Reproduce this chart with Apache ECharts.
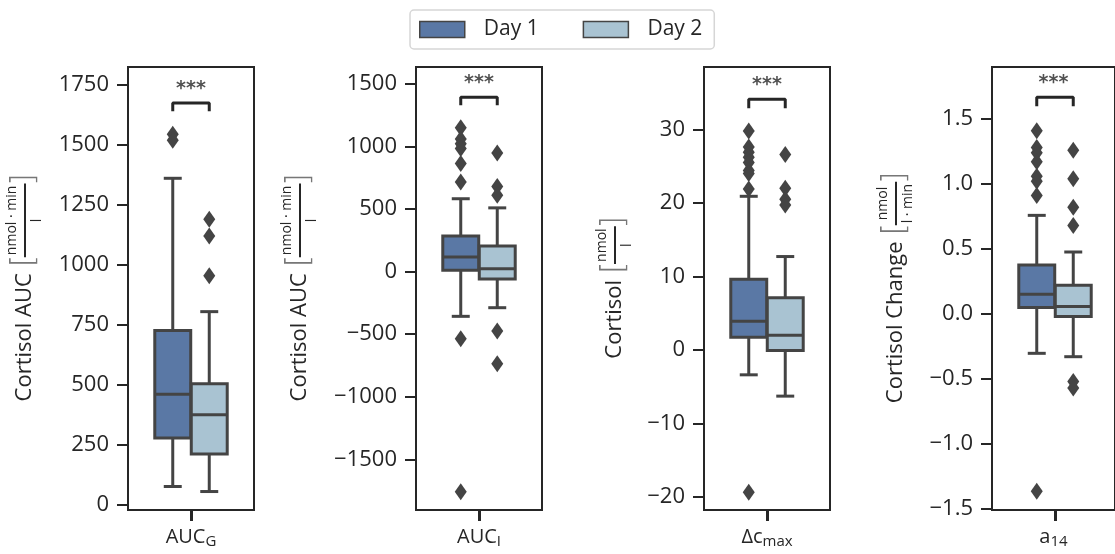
<!DOCTYPE html>
<html>
<head>
<meta charset="utf-8">
<script src="https://cdn.jsdelivr.net/npm/echarts@6/dist/echarts.min.js"></script>
<style>
  html, body { margin: 0; padding: 0; background: #fff; }
  #chart { width: 1115px; height: 554px; }
</style>
</head>
<body>
<div id="chart"></div>
<script>
// ---------------------------------------------------------------------------
// Cortisol boxplots, Day 1 vs Day 2, four measures side by side
// ---------------------------------------------------------------------------

const days = ['Day 1', 'Day 2']
const dayColors = ['#5a78a5', '#a9c3d2']

// x category of each panel: main text + subscript
const metricMain = ['AUC', 'AUC', 'Δc', 'a']
const metricSub = ['G', 'I', 'max', '14']

// y axis title: text, fraction numerator, fraction denominator
const yTitle = ['Cortisol AUC', 'Cortisol AUC', 'Cortisol', 'Cortisol Change']
const yUnitNum = ['nmol · min', 'nmol · min', 'nmol', 'nmol']
const yUnitDen = ['l', 'l', 'l', 'l · min']

const yMin = [-22, -1905, -21.8, -1.51]
const yMax = [1825, 1636, 38.5, 1.9]
const yTicks = [
  [0, 250, 500, 750, 1000, 1250, 1500, 1750],
  [-1500, -1000, -500, 0, 500, 1000, 1500],
  [-20, -10, 0, 10, 20, 30],
  [-1.5, -1.0, -0.5, 0.0, 0.5, 1.0, 1.5],
]
const yDecimals = [0, 0, 0, 1]

// box: [lower whisker, Q1, median, Q3, upper whisker]
const day1Box = [
  [76, 278, 461, 726, 1361],
  [-357, 12, 118, 286, 583],
  [-3.4, 1.7, 3.9, 9.6, 20.9],
  [-0.304, 0.049, 0.151, 0.376, 0.758],
]
const day2Box = [
  [55, 211, 375, 504, 805],
  [-288, -59, 24, 205, 510],
  [-6.3, -0.1, 2.0, 7.1, 12.7],
  [-0.33, -0.02, 0.057, 0.22, 0.476],
]
const day1Outliers = [
  [1545, 1520],
  [1150, 1060, 1023, 985, 865, 716, -536, -1760],
  [29.8, 27.6, 26.9, 26.2, 25.5, 24.4, 24.0, 21.9, -19.4],
  [1.41, 1.28, 1.24, 1.17, 1.06, 1.02, 0.91, -1.365],
]
const day2Outliers = [
  [1190, 1120, 955],
  [948, 680, 610, -475, -735],
  [26.6, 22.0, 20.5, 19.7],
  [1.26, 1.04, 0.82, 0.68, -0.52, -0.57],
]
const bracketLow = [1640, 1330, 32.9, 1.598]
const bracketHigh = [1675, 1395, 34.1, 1.667]
const sigLabel = ['***', '***', '***', '***']

// layout
const panelLeft = [128, 416, 704, 992]
const panelTop = 67
const panelWidth = 126
const panelHeight = 443
const boxAreaInset = 26.5
const boxAreaWidth = 73
const yNameGap = [84, 97, 70, 77]

const FONT = '"Open Sans", "Noto Sans", sans-serif'
const INK = '#262626'
const GRAY = '#444444'

const measureCtx = document.createElement('canvas').getContext('2d')
function textWidth(str, size) {
  measureCtx.font = size + 'px "Open Sans"'
  return measureCtx.measureText(str).width
}

function fmtTick(v, dec) {
  const s = Math.abs(v).toFixed(dec)
  return v < 0 ? '\u2212' + s : s
}

function renderBox(params, api) {
  const i = api.value(0)
  const low = api.coord([i, api.value(1)])
  const q1 = api.coord([i, api.value(2)])
  const med = api.coord([i, api.value(3)])
  const q3 = api.coord([i, api.value(4)])
  const high = api.coord([i, api.value(5)])
  const bw = api.size([1, 0])[0] * 0.985
  const x = low[0]
  const cap = bw / 4
  const line = { stroke: GRAY, lineWidth: 3 }
  return {
    type: 'group',
    children: [
      { type: 'line', shape: { x1: x, y1: q3[1], x2: x, y2: high[1] }, style: line },
      { type: 'line', shape: { x1: x, y1: q1[1], x2: x, y2: low[1] }, style: line },
      { type: 'line', shape: { x1: x - cap, y1: high[1], x2: x + cap, y2: high[1] }, style: line },
      { type: 'line', shape: { x1: x - cap, y1: low[1], x2: x + cap, y2: low[1] }, style: line },
      {
        type: 'rect',
        shape: { x: x - bw / 2, y: q3[1], width: bw, height: q1[1] - q3[1] },
        style: { fill: dayColors[i], stroke: GRAY, lineWidth: 3 },
      },
      { type: 'line', shape: { x1: x - bw / 2, y1: med[1], x2: x + bw / 2, y2: med[1] }, style: line },
    ],
  }
}

function yName(p) {
  const wMain = textWidth(yTitle[p], 22) + 8
  const wFrac = Math.max(textWidth(yUnitNum[p], 14), textWidth(yUnitDen[p], 14)) + 4
  const text = [
    '{pm|}{pb|}{num|' + yUnitNum[p] + '}{pb|}',
    '{main|' + yTitle[p] + '}{lb|[}{bar|}{rb|]}',
    '{pm|}{pb|}{den|' + yUnitDen[p] + '}{pb|}',
  ].join('\n')
  const bracket = {
    fontSize: 32, fontFamily: 'DejaVu Sans', fontWeight: 200, color: '#777',
    width: 8, align: 'center', lineHeight: 12,
  }
  const frac = { fontSize: 14, fontFamily: FONT, color: INK, width: wFrac, align: 'center', lineHeight: 13 }
  return {
    text,
    rich: {
      main: { fontSize: 22, fontFamily: FONT, color: INK, width: wMain, align: 'left', lineHeight: 12 },
      num: frac,
      den: frac,
      pm: { width: wMain, lineHeight: 13 },
      pb: { width: 8, lineHeight: 13 },
      lb: bracket,
      rb: bracket,
      bar: { width: wFrac, height: 2, backgroundColor: INK, lineHeight: 12 },
    },
  }
}

const grids = []
const xAxes = []
const yAxes = []
const series = []

const tickStyle = { color: INK, width: 2 }

for (let p = 0; p < 4; p++) {
  const outer = 3 * p
  const inner = 3 * p + 1
  const tickGrid = 3 * p + 2

  grids.push({
    left: panelLeft[p], top: panelTop, width: panelWidth, height: panelHeight,
    show: true, borderColor: INK, borderWidth: 2, backgroundColor: 'transparent',
  })
  grids.push({
    left: panelLeft[p] + boxAreaInset, top: panelTop, width: boxAreaWidth, height: panelHeight,
  })
  // hair-thin grid in the middle of the frame: its boundary ticks form the x tick
  grids.push({
    left: panelLeft[p] + panelWidth / 2 - 0.25, top: panelTop, width: 0.5, height: panelHeight,
  })

  const yn = yName(p)
  xAxes.push({
    type: 'value', gridIndex: outer, position: 'bottom', min: -0.5, max: 0.5,
    axisLine: { show: false, onZero: false },
    splitLine: { show: false },
    axisTick: { show: false },
    axisLabel: {
      margin: 15, customValues: [0],
      formatter: () => '{m|' + metricMain[p] + '}{s|' + metricSub[p] + '}',
      rich: {
        m: { fontSize: 20, fontFamily: FONT, color: INK, lineHeight: 24 },
        s: { fontSize: 15, fontFamily: FONT, color: INK, lineHeight: 15, height: 15, verticalAlign: 'bottom' },
      },
    },
  })
  xAxes.push({ type: 'category', gridIndex: inner, data: days, show: false })
  xAxes.push({
    type: 'category', gridIndex: tickGrid, data: [''], position: 'bottom', z: 50,
    axisLine: { show: false, onZero: false },
    axisLabel: { show: false },
    axisTick: { show: true, alignWithLabel: false, interval: 0, length: 11, lineStyle: tickStyle },
  })

  yAxes.push({
    type: 'value', gridIndex: outer, min: yMin[p], max: yMax[p],
    axisLine: { show: false, onZero: false },
    splitLine: { show: false },
    axisTick: { show: true, length: 11, customValues: yTicks[p], lineStyle: tickStyle },
    axisLabel: {
      customValues: yTicks[p], margin: 19, fontSize: 22, fontFamily: FONT, color: INK,
      formatter: (v) => fmtTick(v, yDecimals[p]),
    },
    name: yn.text,
    nameLocation: 'middle',
    nameGap: yNameGap[p],
    nameTextStyle: { rich: yn.rich, lineHeight: 13 },
  })
  yAxes.push({ type: 'value', gridIndex: inner, min: yMin[p], max: yMax[p], show: false })
  yAxes.push({ type: 'value', gridIndex: tickGrid, show: false })

  series.push({
    type: 'custom', xAxisIndex: inner, yAxisIndex: inner,
    renderItem: renderBox,
    encode: { x: 0, y: [1, 2, 3, 4, 5] },
    data: [[0].concat(day1Box[p]), [1].concat(day2Box[p])],
    silent: true,
  })
  series.push({
    type: 'scatter', name: days[0], xAxisIndex: inner, yAxisIndex: inner,
    symbol: 'diamond', symbolSize: [12, 17],
    itemStyle: { color: GRAY, opacity: 1 },
    data: day1Outliers[p].map((v) => [0, v]),
  })
  series.push({
    type: 'scatter', name: days[1], xAxisIndex: inner, yAxisIndex: inner,
    symbol: 'diamond', symbolSize: [12, 17],
    itemStyle: { color: GRAY, opacity: 1 },
    data: day2Outliers[p].map((v) => [1, v]),
  })
  series.push({
    type: 'line', xAxisIndex: inner, yAxisIndex: inner,
    symbol: 'none', silent: true,
    lineStyle: { color: INK, width: 3 },
    data: [[0, bracketLow[p]], [0, bracketHigh[p]], [1, bracketHigh[p]], [1, bracketLow[p]]],
  })
  series.push({
    type: 'scatter', xAxisIndex: outer, yAxisIndex: outer,
    symbolSize: 1, itemStyle: { color: 'transparent' }, silent: true,
    label: {
      show: true, position: 'top', distance: 4, formatter: sigLabel[p],
      fontSize: 19, fontFamily: 'DejaVu Sans', fontWeight: 'bold', color: INK,
    },
    data: [[0, bracketHigh[p]]],
  })
}

const chart = echarts.init(document.getElementById('chart'), null, { renderer: 'canvas' })
chart.setOption({
  animation: false,
  backgroundColor: '#ffffff',
  textStyle: { fontFamily: FONT, color: INK },
  legend: {
    left: 410, top: 10,
    padding: [9, 12, 9, 9],
    borderColor: '#d6d6d6', borderWidth: 1.5, borderRadius: 4,
    itemWidth: 45, itemHeight: 16, itemGap: 44,
    formatter: (name) => '{t|' + name + '}',
    textStyle: {
      rich: { t: { fontSize: 21, fontFamily: FONT, color: INK, padding: [0, 0, 0, 14] } },
    },
    data: days.map((d, i) => ({
      name: d, icon: 'rect',
      itemStyle: { color: dayColors[i], borderColor: GRAY, borderWidth: 1.5 },
    })),
  },
  grid: grids,
  xAxis: xAxes,
  yAxis: yAxes,
  series,
})
</script>
</body>
</html>
